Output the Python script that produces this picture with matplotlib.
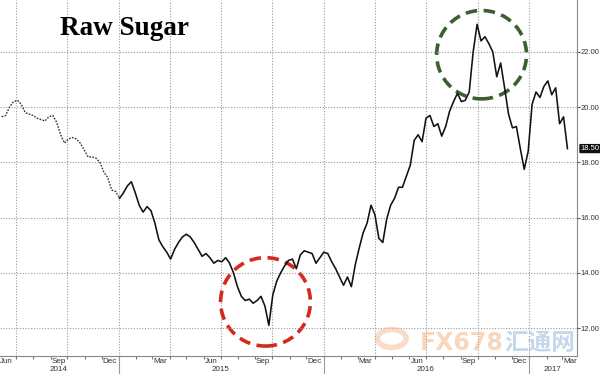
import pandas as pd
import matplotlib
matplotlib.use("Agg")
import matplotlib.pyplot as plt
import matplotlib.dates as mdates
import matplotlib.transforms as mtransforms
from matplotlib.patches import Ellipse, Circle

# weekly raw sugar prices (cents/lb), starting 2014-06-06
sugar = [19.65, 19.7, 20.0, 20.2, 20.25, 20.1, 19.8, 19.75, 19.7, 19.6,
         19.55, 19.5, 19.65, 19.7, 19.45, 19.0, 18.7, 18.85, 18.9, 18.85,
         18.7, 18.45, 18.2, 18.2, 18.15, 18.0, 17.65, 17.45, 17.0, 16.95,
         16.7, 16.9, 17.15, 17.3, 16.9, 16.45, 16.2, 16.4, 16.25, 15.8,
         15.2, 14.95, 14.75, 14.5, 14.85, 15.1, 15.3, 15.4, 15.3, 15.1,
         14.85, 14.6, 14.7, 14.55, 14.35, 14.45, 14.4, 14.55, 14.35, 14.0,
         13.5, 13.15, 13.0, 13.05, 12.9, 13.0, 13.15, 12.8, 12.1, 13.2,
         13.7, 14.0, 14.25, 14.45, 14.5, 14.15, 14.65, 14.8, 14.75, 14.7,
         14.35, 14.55, 14.75, 14.7, 14.4, 14.15, 13.85, 13.55, 13.85, 13.5,
         14.3, 14.9, 15.45, 15.8, 16.45, 16.1, 15.25, 15.1, 15.95, 16.45,
         16.7, 17.1, 17.1, 17.5, 17.9, 18.8, 19.0, 18.75, 19.6, 19.7,
         19.3, 19.4, 18.95, 19.3, 19.85, 20.2, 20.5, 20.2, 20.25, 20.55,
         22.0, 23.0, 22.4, 22.55, 22.3, 22.0, 21.1, 21.6, 20.7, 19.75,
         19.25, 19.3, 18.5, 17.75, 18.4, 20.1, 20.55, 20.35, 20.75, 20.95,
         20.45, 20.7, 19.4, 19.65, 18.5]
dates = pd.date_range("2014-06-06", periods=len(sugar), freq="7D")
n_dotted = 30  # the 2014 part is drawn dotted in the original

y_ticks = [12, 14, 16, 18, 20, 22]
last_price = 18.50

# circled regions: (center date, center price, colour)
low_circle = ("2015-09-19", 12.95, "#d42a1e")
high_circle = ("2016-10-08", 21.9, "#3d5f30")

small = "Liberation Sans"

fig = plt.figure(figsize=(6, 3.74), dpi=100)
ax = fig.add_axes([0, 18 / 374, 577 / 600, 356 / 374])
ax.set_xlim(pd.Timestamp("2014-06-03"), pd.Timestamp("2017-03-27"))
ax.set_ylim(10.99, 23.88)

# grid
ax.set_yticks(y_ticks)
ax.set_yticklabels([f"{v:.2f}" for v in y_ticks], family=small)
ax.yaxis.grid(True, linestyle=(0, (1, 1.5)), color="#9a9a9a", lw=0.8)
for d in pd.date_range("2014-07-01", "2017-01-01", freq="QS"):
    ax.axvline(d, linestyle=(0, (1, 1.5)), color="#9a9a9a", lw=0.8, zorder=0)

# price line
ax.plot(dates[:n_dotted + 1], sugar[:n_dotted + 1], color="#333333", lw=1.0,
        linestyle=(0, (1.2, 1.0)))
ax.plot(dates[n_dotted:], sugar[n_dotted:], color="#111111", lw=1.15)

# circles
for d, v, c in (low_circle, high_circle):
    ax.add_patch(Ellipse((mdates.date2num(pd.Timestamp(d)), v), width=160, height=3.2,
                         fill=False, edgecolor=c, lw=2.6, linestyle=(0, (3.2, 1.8))))

# axes styling
for s in ("top", "left"):
    ax.spines[s].set_visible(False)
ax.spines["right"].set_color("#888888")
ax.spines["bottom"].set_color("#888888")
ax.yaxis.tick_right()
ax.tick_params(axis="y", direction="out", length=2, width=0.8, color="#555555",
               labelsize=5.5, labelcolor="#333333", pad=0.8)

month_pos = pd.date_range("2014-06-01", "2017-03-01", freq="3MS") + pd.Timedelta(days=14)
ax.set_xticks(month_pos)
ax.set_xticklabels([d.strftime("%b") for d in month_pos], family=small)
ax.xaxis.set_minor_locator(mdates.MonthLocator())
ax.tick_params(axis="x", which="major", length=0, labelsize=5.8, labelcolor="#333333", pad=1.5)
ax.tick_params(axis="x", which="minor", direction="out", length=2.5, width=0.8, color="#777777")

trans = mtransforms.blended_transform_factory(ax.transData, ax.transAxes)
for y in ("2015-01-01", "2016-01-01", "2017-01-01"):
    ax.plot([pd.Timestamp(y)] * 2, [0, -0.06], transform=trans, clip_on=False,
            color="#999999", lw=0.8)
year_pos = {"2014": "2014-09-15", "2015": "2015-07-01", "2016": "2016-07-01", "2017": "2017-02-12"}
for label, d in year_pos.items():
    ax.text(pd.Timestamp(d), -0.038, label, transform=trans, ha="center", va="center",
            fontsize=5.8, color="#333333", family=small)

# last price tag
tag_trans = mtransforms.blended_transform_factory(ax.transAxes, ax.transData)
ax.text(1.006, last_price, f"{last_price:.2f}", transform=tag_trans, ha="left", va="center",
        fontsize=5.5, color="white", family=small,
        bbox=dict(boxstyle="round,pad=0.15", fc="#111111", ec="none"))

fig.text(0.1, 0.906, "Raw Sugar", fontfamily="Liberation Serif", fontweight="bold",
         fontsize=19.5, va="baseline")

# watermark
fig.patches.append(Circle((0.653, 0.095), 0.024, transform=fig.transFigure, fill=False,
                          ec="#f2b48a", lw=4, alpha=0.45))
fig.text(0.70, 0.064, "FX678", fontsize=17, color="#f4b07c", alpha=0.5, va="baseline",
         fontweight="bold")
fig.text(0.84, 0.064, "汇通网", fontsize=17, color="#8fb0dc", alpha=0.5, va="baseline",
         family=["Noto Sans CJK SC", "DejaVu Sans"], fontweight="bold")

fig.savefig("out.png", dpi=100)
